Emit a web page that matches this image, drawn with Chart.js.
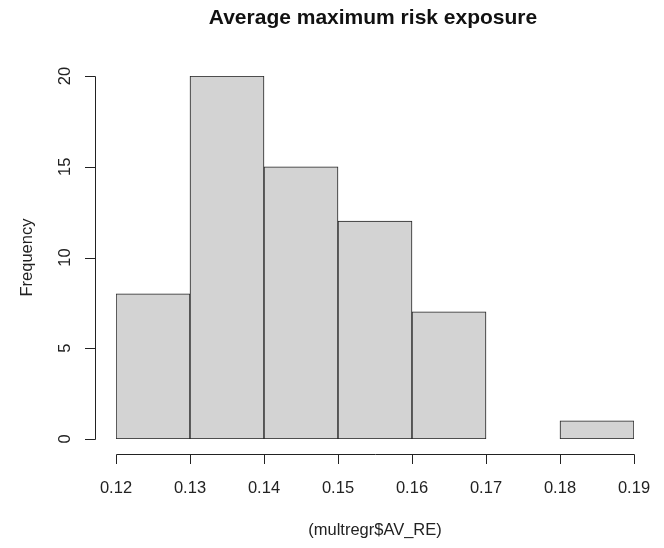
<!DOCTYPE html>
<html>
<head>
<meta charset="utf-8">
<script src="https://cdn.jsdelivr.net/npm/chart.js@4"></script>
<style>
  body { margin: 0; background: #fff; }
  #wrap { width: 664px; height: 548px; }
</style>
</head>
<body>
<div id="wrap"><canvas id="hist"></canvas></div>
<script>
// histogram bins (left edges) and counts
const binStarts = [0.12, 0.13, 0.14, 0.15, 0.16, 0.17, 0.18];
const binWidth = 0.01;
const counts = [8, 20, 15, 12, 7, 0, 1];
const xTicks = [0.12, 0.13, 0.14, 0.15, 0.16, 0.17, 0.18, 0.19];
const yTicks = [0, 5, 10, 15, 20];

const mainTitle = 'Average maximum risk exposure';
const xTitle = '(multregr$AV_RE)';
const yTitle = 'Frequency';

// R-style axes, drawn after the bars
const rAxes = {
  id: 'rAxes',
  afterDraw(chart) {
    const ctx = chart.ctx;
    const x = chart.scales.x, y = chart.scales.y;
    const axisX = 95, axisY = 454, tick = 10;
    ctx.save();
    ctx.strokeStyle = '#222';
    ctx.fillStyle = '#222';
    ctx.lineWidth = 1;

    // y axis
    ctx.beginPath();
    ctx.moveTo(axisX + 0.5, Math.round(y.getPixelForValue(yTicks[0])) + 0.5);
    ctx.lineTo(axisX + 0.5, Math.round(y.getPixelForValue(yTicks[yTicks.length - 1])) + 0.5);
    yTicks.forEach(v => {
      const py = Math.round(y.getPixelForValue(v)) + 0.5;
      ctx.moveTo(axisX + 0.5, py);
      ctx.lineTo(axisX - tick, py);
    });
    ctx.stroke();
    ctx.font = '16.5px "Liberation Sans", Arial, sans-serif';
    ctx.textAlign = 'center';
    ctx.textBaseline = 'middle';
    yTicks.forEach(v => {
      ctx.save();
      ctx.translate(65, y.getPixelForValue(v));
      ctx.rotate(-Math.PI / 2);
      ctx.fillText(String(v), 0, 0);
      ctx.restore();
    });

    // x axis
    ctx.beginPath();
    ctx.moveTo(Math.round(x.getPixelForValue(xTicks[0])) + 0.5, axisY + 0.5);
    ctx.lineTo(Math.round(x.getPixelForValue(xTicks[xTicks.length - 1])) + 0.5, axisY + 0.5);
    xTicks.forEach(v => {
      const px = Math.round(x.getPixelForValue(v)) + 0.5;
      ctx.moveTo(px, axisY + 0.5);
      ctx.lineTo(px, axisY + tick);
    });
    ctx.stroke();
    xTicks.forEach(v => {
      ctx.fillText(v.toFixed(2), x.getPixelForValue(v), 488);
    });

    // titles
    ctx.fillText(xTitle, 375, 530);
    ctx.save();
    ctx.translate(27, (y.top + y.bottom) / 2);
    ctx.rotate(-Math.PI / 2);
    ctx.fillText(yTitle, 0, 0);
    ctx.restore();
    ctx.fillStyle = '#111';
    ctx.font = 'bold 21px "Liberation Sans", Arial, sans-serif';
    ctx.fillText(mainTitle, 373, 18);
    ctx.restore();
  }
};

const points = binStarts.map((s, i) => ({ x: s + binWidth / 2, y: counts[i] === 0 ? null : counts[i] }));

new Chart(document.getElementById('hist'), {
  type: 'bar',
  data: {
    datasets: [{
      data: points,
      backgroundColor: '#d3d3d3',
      borderColor: '#222',
      borderWidth: 1,
      borderSkipped: false,
      barPercentage: 1,
      categoryPercentage: 1
    }]
  },
  options: {
    responsive: true,
    maintainAspectRatio: false,
    animation: false,
    layout: { padding: { left: 116, right: 30, top: 76, bottom: 109 } },
    plugins: { legend: { display: false }, tooltip: { enabled: false } },
    scales: {
      x: { type: 'linear', min: 0.12, max: 0.19, offset: false, display: false },
      y: { min: 0, max: 20, display: false }
    }
  },
  plugins: [rAxes]
});
</script>
</body>
</html>
